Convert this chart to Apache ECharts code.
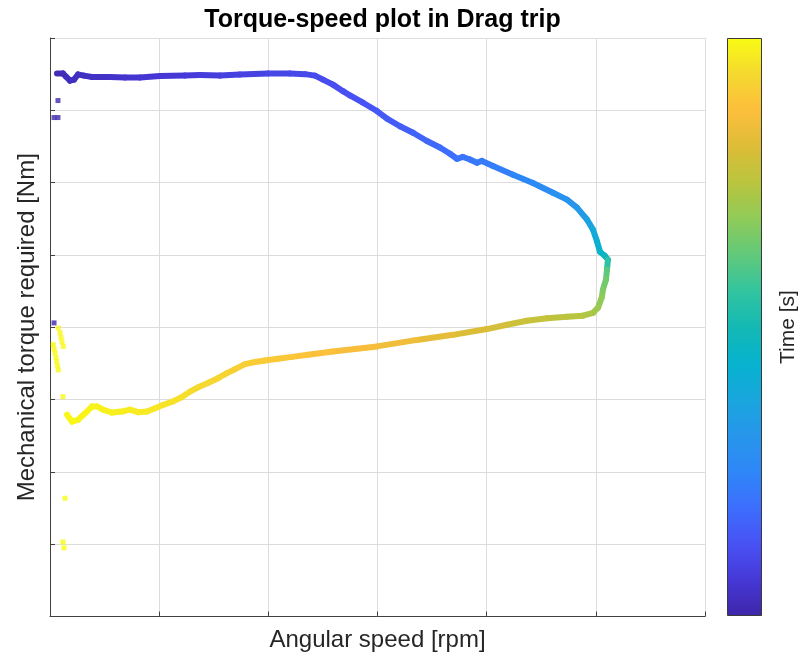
<!DOCTYPE html>
<html><head><meta charset="utf-8">
<script src="https://cdn.jsdelivr.net/npm/echarts@6/dist/echarts.min.js"></script>
<style>html,body{margin:0;padding:0;background:#fff}#c{width:800px;height:664px}</style>
</head><body><div id="c"></div>
<script>
// Continuous torque-speed trajectory (time ordered)
const pathSpeed = [64,119,147,183,220,256,311,385,550,687,824,1008,1237,1374,1557,1740,1997,2198,2336,2427,2501,2592,2684,2748,2867,2995,3087,3206,3325,3453,3572,3664,3728,3783,3847,3911,3957,4058,4241,4424,4607,4736,4827,4919,4974,5011,5038,5084,5111,5102,5093,5065,5056,5020,4974,4882,4736,4553,4369,4186,4003,3691,3362,2995,2592,2363,2217,2088,1969,1878,1786,1695,1621,1539,1447,1356,1282,1209,1127,1035,962,889,806,733,660,568,485,431,385,339,256,202,156];
const pathTorque = [150.2,150.2,149.3,148.2,148.5,149.9,149.6,149.2,149.2,149.1,149.1,149.5,149.6,149.8,149.6,149.9,150.2,150.2,150.0,149.6,148.5,147.1,145.3,144.1,142.1,139.8,137.7,135.6,133.8,131.5,129.7,128.0,126.6,127.1,126.4,125.5,126.0,124.6,122.2,119.9,117.2,115.3,113.1,109.8,107.0,103.7,100.9,99.7,98.7,95.9,93.2,90.4,88.4,85.4,84.0,83.2,82.9,82.5,81.8,80.7,79.5,77.9,76.5,74.7,73.3,72.4,71.8,71.3,70.8,70.4,69.8,68.4,67.3,65.9,64.6,63.4,62.2,60.7,59.5,58.5,57.6,56.7,56.5,57.2,56.7,56.4,57.2,58.1,58.1,56.7,54.4,53.9,55.8];
const pathTime = [0.4,0.44,0.5,0.56,0.6,0.66,0.72,0.8,0.92,1.04,1.14,1.26,1.4,1.5,1.62,1.74,1.9,2.02,2.1,2.16,2.22,2.3,2.4,2.5,2.6,2.8,2.9,3.1,3.3,3.5,3.7,3.8,4.0,4.1,4.2,4.3,4.4,4.6,5.0,5.4,5.9,6.2,6.6,7.2,7.8,8.4,9.0,9.6,11.0,12.4,13.0,13.4,13.8,14.2,14.6,14.9,15.1,15.4,15.6,15.9,16.2,16.6,17.0,17.3,17.6,17.8,17.9,18.0,18.1,18.2,18.3,18.4,18.5,18.6,18.7,18.8,18.9,19.0,19.1,19.2,19.26,19.32,19.4,19.46,19.52,19.58,19.64,19.68,19.72,19.76,19.8,19.84,19.88];

// Isolated samples at near-zero speed
const dotSpeed = [73,37,73,37,76,92,101,110,122,30,38,46,55,61,69,76,119,137,119,128];
const dotTorque = [142.7,138.0,138.0,81.2,79.8,78.5,77.2,76.0,74.7,75.2,74.0,72.9,71.6,70.5,69.3,68.2,60.8,32.7,20.6,19.0];
const dotTime = [0.2,0.15,0.15,0.1,19.9,19.9,19.92,19.92,19.93,19.94,19.94,19.95,19.95,19.96,19.96,19.97,19.97,19.98,19.99,20];

const xTicks = [0,1000,2000,3000,4000,5000,6000];
const yTicks = [0,20,40,60,80,100,120,140,160];
const timeRange = [0,20];

const parula = ['#3e26a8','#4638d7','#4852f4','#3d6efd','#2e87f7','#2796eb','#19a6dd','#06b3ce','#14b9b4','#32c49f','#61c97a','#8fcb58','#bac43e','#ddbd37','#fdbe3c','#f5d92f','#f9fb14'];

const pathData = pathSpeed.map((s,i)=>[s,pathTorque[i],pathTime[i]]);
const dotData = dotSpeed.map((s,i)=>[s,dotTorque[i],dotTime[i]]);

const FONT = 'Liberation Sans, Arial, Helvetica, sans-serif';
const chart = echarts.init(document.getElementById('c'), null, {renderer:'canvas'});
chart.setOption({
  backgroundColor:'#fff',
  animation:false,
  title:{text:'Torque-speed plot in Drag trip', left:377.5, top:3, textAlign:'center',
    textStyle:{fontSize:25, fontWeight:'bold', color:'#000', fontFamily:FONT}},
  grid:{left:50, top:38, right:95, bottom:47.5, containLabel:false},
  xAxis:{type:'value', min:xTicks[0], max:xTicks[xTicks.length-1], interval:xTicks[1]-xTicks[0],
    name:'Angular speed [rpm]', nameLocation:'middle', nameGap:12,
    nameTextStyle:{fontSize:24, color:'#262626', fontFamily:FONT, verticalAlign:'top'},
    axisLine:{show:true, onZero:false, lineStyle:{color:'#404040', width:1}},
    axisTick:{show:true, inside:true, length:5, lineStyle:{color:'#404040'}},
    axisLabel:{show:false},
    splitLine:{show:true, lineStyle:{color:'#dcdcdc', width:1}}},
  yAxis:{type:'value', min:yTicks[0], max:yTicks[yTicks.length-1], interval:yTicks[1]-yTicks[0],
    name:'Mechanical torque required [Nm]', nameLocation:'middle', nameGap:11, nameRotate:90,
    nameTextStyle:{fontSize:24, color:'#262626', fontFamily:FONT},
    axisLine:{show:true, onZero:false, lineStyle:{color:'#404040', width:1}},
    axisTick:{show:true, inside:true, length:5, lineStyle:{color:'#404040'}},
    axisLabel:{show:false},
    splitLine:{show:true, lineStyle:{color:'#dcdcdc', width:1}}},
  visualMap:{type:'continuous', min:timeRange[0], max:timeRange[1], dimension:2, seriesIndex:[0,1],
    orient:'vertical', left:727, top:38, itemWidth:35, itemHeight:578, padding:0,
    calculable:false, hoverLink:false, inRange:{color:parula}, textStyle:{fontSize:0}},
  graphic:[
    {type:'rect', shape:{x:727.5,y:38.5,width:34,height:577}, style:{fill:null, stroke:'#3a3a3a', lineWidth:1}, z:100, silent:true},
    {type:'text', x:788, y:327, rotation:Math.PI/2, style:{text:'Time [s]', font:'21px '+FONT, fill:'#262626', align:'center', verticalAlign:'middle'}, silent:true}
  ],
  series:[
    {type:'custom', name:'trajectory', data:pathData, encode:{x:0,y:1}, clip:true,
      renderItem:function(params, api){
        const i = params.dataIndexInside;
        if (i >= params.dataInsideLength - 1) return null;
        const p1 = api.coord([api.value(0), api.value(1)]);
        const p2 = api.coord([api.value(0, i+1), api.value(1, i+1)]);
        return {type:'line', shape:{x1:p1[0],y1:p1[1],x2:p2[0],y2:p2[1]},
          style:{stroke:api.visual('color'), lineWidth:6, lineCap:'round', fill:null}};
      }},
    {type:'scatter', name:'samples', data:dotData, symbol:'rect', symbolSize:5, encode:{x:0,y:1}}
  ]
});
</script></body></html>
